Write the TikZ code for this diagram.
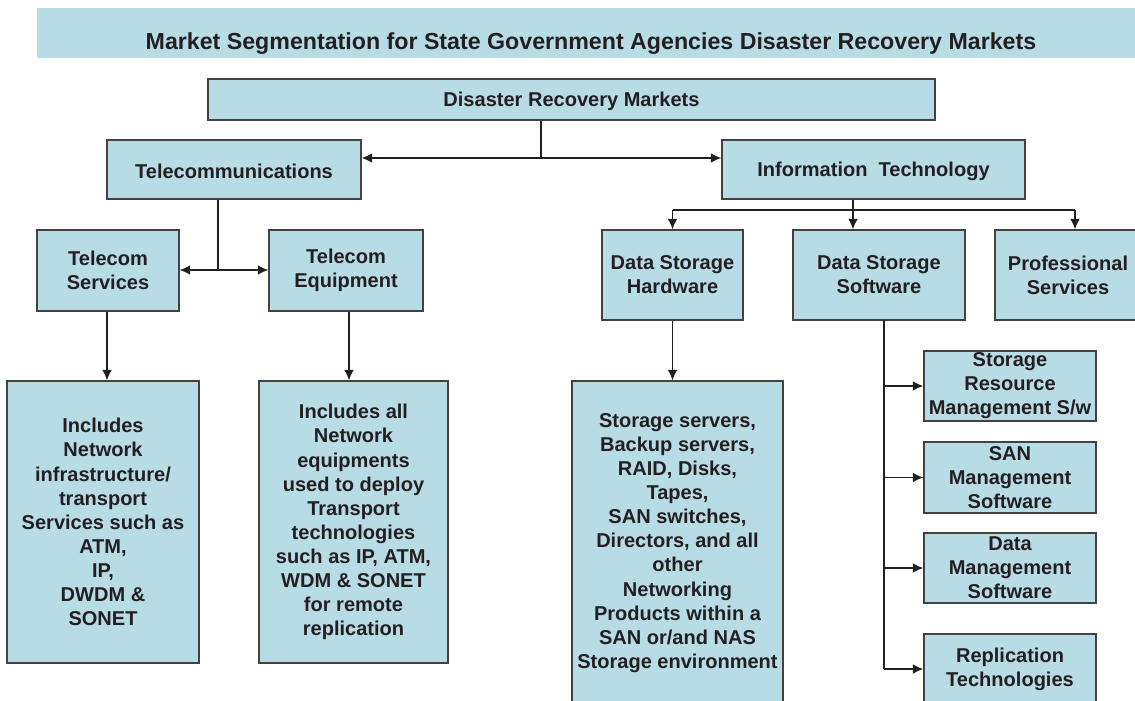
\documentclass[tikz,border=0pt]{standalone}
\usepackage{fontspec}
\setmainfont{Liberation Sans}
\usetikzlibrary{arrows.meta}

\definecolor{boxblue}{HTML}{B7DCE6}
\definecolor{inkgray}{HTML}{231F20}

\tikzset{
    seg/.style 2 args={draw=inkgray!85, fill=boxblue, line width=0.7pt,
        inner sep=0pt, align=center, text=inkgray,
        font=\fontsize{11.4}{13.7}\selectfont\bfseries,
        execute at begin node={\rule{0pt}{10.6pt}},
        minimum width=#1*0.02cm, minimum height=#2*0.02cm},
    banner/.style={fill=boxblue, inner sep=0pt,
        minimum width=1108*0.02cm, minimum height=50*0.02cm},
    title/.style={inner sep=0pt, text=inkgray,
        font=\fontsize{13.2}{15.8}\selectfont\bfseries},
    link/.style={draw=inkgray, line width=0.8pt},
    >={Latex[length=6pt,width=5.5pt]}
}

\begin{document}
\begin{tikzpicture}[x=0.02cm, y=-0.02cm]

\useasboundingbox (0,0) rectangle (1135,700);
\clip (0,0) rectangle (1135,700);

% heading
\node[banner] (bnr) at (591,33) {};
\node[title] (ttl) at (591,43.5)
    {Market Segmentation for State Government Agencies Disaster Recovery Markets};

% top levels
\node[seg={727}{41}] (drm) at (571.5,99.5) {Disaster Recovery Markets};
\node[seg={254}{59}] (tc) at (234,169.5) {Telecommunications};
\node[seg={303}{59}] (it) at (873.5,169.5) {Information\ \ Technology};

% telecom side
\node[seg={142}{81}] (ts) at (108,270.5) {Telecom\\Services};
\node[seg={154}{81}] (te) at (346,270.5) {Telecom\\Equipment};
\node[seg={192}{282}] (inc1) at (103,522)
    {Includes\\Network\\infrastructure/\\transport\\Services such as\\ATM,\\IP,\\DWDM \&\\SONET};
\node[seg={189}{282}] (inc2) at (353.5,522)
    {Includes all\\Network\\equipments\\used to deploy\\Transport\\technologies\\such as IP, ATM,\\WDM \& SONET\\for remote\\replication};

% IT side
\node[seg={141}{90}] (dsh) at (672.5,275) {Data Storage\\Hardware};
\node[seg={172}{90}] (dss) at (879,275) {Data Storage\\Software};
\node[seg={146}{90}] (ps) at (1068,275) {Professional\\Services};
\node[seg={211}{324}] (inc3) at (677.5,543)
    {Storage servers,\\Backup servers,\\RAID, Disks,\\Tapes,\\SAN switches,\\Directors, and all\\other\\Networking\\Products within a\\SAN or/and NAS\\Storage environment};

\node[seg={172}{70}] (srm) at (1010,386) {Storage\\Resource\\Management S/w};
\node[seg={172}{71}] (san) at (1010,477.5) {SAN\\Management\\Software};
\node[seg={172}{70}] (dms) at (1010,568) {Data\\Management\\Software};
\node[seg={172}{70}] (rt) at (1010,669) {Replication\\Technologies};

% joints
\coordinate (j1) at (541,158);
\coordinate (j2) at (218,270);
\coordinate (j3) at (853,210);
\coordinate (j4) at (884,320);
\coordinate (j5) at (1075,210);

% connectors
\draw[link] (drm.south -| j1) -- (j1);
\draw[link, <->] (tc.east |- j1) -- (it.west |- j1);

\draw[link] (tc.south -| j2) -- (j2);
\draw[link, <->] (ts.east |- j2) -- (te.west |- j2);
\draw[link, ->] (ts.south -| 107,0) -- (inc1.north -| 107,0);
\draw[link, ->] (te.south -| 349,0) -- (inc2.north -| 349,0);

\draw[link] (it.south -| j3) -- (j3);
\draw[link] (dsh.north |- j3) -- (j5);
\draw[link, ->] (dsh.north |- j3) -- (dsh.north);
\draw[link, ->] (j3) -- (j3 |- dss.north);
\draw[link, ->] (j5) -- (j5 |- ps.north);
\draw[link, ->] (dsh.south) -- (dsh.south |- inc3.north);

\draw[link] (j4) -- (j4 |- rt.west);
\foreach \n in {srm, san, dms, rt}
    \draw[link, ->] (j4 |- \n.west) -- (\n.west);

\end{tikzpicture}
\end{document}
